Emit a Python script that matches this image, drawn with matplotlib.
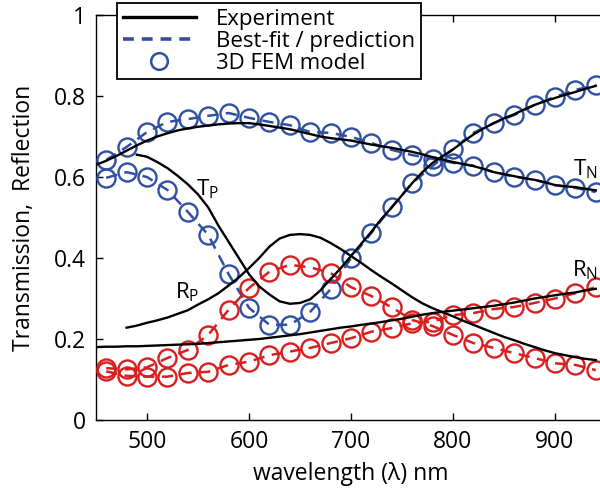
import matplotlib
matplotlib.use("Agg")
import matplotlib.pyplot as plt
from matplotlib.lines import Line2D

plt.rcParams['font.family'] = ['Open Sans', 'DejaVu Sans']
plt.rcParams['mathtext.default'] = 'regular'

# ---------------- data ----------------
# experimental spectra (black lines), 10 nm grid
wl_TN_exp = list(range(450, 950, 10))
TN_exp = [0.630, 0.640, 0.652, 0.665, 0.678, 0.690, 0.700, 0.708, 0.715, 0.720,
          0.724, 0.727, 0.730, 0.732, 0.733, 0.733, 0.730, 0.726, 0.722, 0.718,
          0.712, 0.706, 0.700, 0.696, 0.693, 0.690, 0.685, 0.680, 0.676, 0.672,
          0.667, 0.662, 0.656, 0.649, 0.643, 0.637, 0.632, 0.627, 0.620, 0.612,
          0.607, 0.602, 0.597, 0.593, 0.587, 0.580, 0.577, 0.575, 0.571, 0.567]

wl_TP_exp = list(range(490, 950, 10))
TP_exp = [0.655, 0.650, 0.637, 0.622, 0.603, 0.582, 0.557, 0.525, 0.480, 0.440,
          0.400, 0.360, 0.330, 0.310, 0.293, 0.287, 0.289, 0.298, 0.320, 0.348,
          0.375, 0.405, 0.435, 0.465, 0.497, 0.525, 0.555, 0.585, 0.612, 0.635,
          0.652, 0.668, 0.687, 0.705, 0.720, 0.733, 0.745, 0.755, 0.767, 0.778,
          0.787, 0.795, 0.803, 0.810, 0.818, 0.825]

wl_RP_exp = list(range(480, 950, 10))
RP_exp = [0.228, 0.233, 0.240, 0.246, 0.253, 0.262, 0.271, 0.285, 0.298, 0.313,
          0.332, 0.352, 0.375, 0.400, 0.428, 0.448, 0.457, 0.459, 0.457, 0.450,
          0.437, 0.422, 0.405, 0.388, 0.370, 0.353, 0.337, 0.320, 0.303, 0.288,
          0.276, 0.266, 0.256, 0.245, 0.235, 0.225, 0.215, 0.205, 0.197, 0.188,
          0.180, 0.172, 0.165, 0.160, 0.155, 0.151, 0.148]

wl_RN_exp = list(range(450, 950, 10))
RN_exp = [0.180, 0.181, 0.181, 0.182, 0.182, 0.183, 0.184, 0.185, 0.186, 0.187,
          0.188, 0.190, 0.192, 0.194, 0.196, 0.198, 0.200, 0.203, 0.206, 0.209,
          0.212, 0.216, 0.220, 0.224, 0.228, 0.231, 0.235, 0.238, 0.242, 0.246,
          0.250, 0.255, 0.260, 0.264, 0.267, 0.270, 0.273, 0.276, 0.279, 0.282,
          0.286, 0.290, 0.295, 0.300, 0.304, 0.308, 0.312, 0.315, 0.320, 0.324]

# model (best-fit dashed lines + 3D FEM circles), 20 nm grid
wl_model = list(range(460, 960, 20))
TN_model = [0.642, 0.674, 0.711, 0.736, 0.743, 0.751, 0.758, 0.746, 0.736, 0.728,
            0.711, 0.709, 0.699, 0.684, 0.667, 0.654, 0.645, 0.635, 0.628, 0.612,
            0.601, 0.593, 0.580, 0.573, 0.563]
TP_model = [0.598, 0.612, 0.600, 0.568, 0.514, 0.457, 0.360, 0.277, 0.235, 0.235,
            0.267, 0.323, 0.400, 0.462, 0.526, 0.585, 0.627, 0.669, 0.709, 0.733,
            0.753, 0.778, 0.798, 0.815, 0.827]
RP_model = [0.128, 0.125, 0.130, 0.153, 0.173, 0.210, 0.272, 0.326, 0.366, 0.383,
            0.377, 0.363, 0.328, 0.306, 0.278, 0.247, 0.232, 0.210, 0.190, 0.178,
            0.165, 0.153, 0.140, 0.136, 0.123]
RN_model = [0.120, 0.109, 0.107, 0.107, 0.116, 0.119, 0.136, 0.144, 0.160, 0.169,
            0.178, 0.190, 0.202, 0.218, 0.227, 0.239, 0.243, 0.259, 0.264, 0.274,
            0.279, 0.289, 0.300, 0.313, 0.328]

xticks = [500, 600, 700, 800, 900]
yticks = [0, 0.2, 0.4, 0.6, 0.8, 1]
ytick_labels = ['0', '0.2', '0.4', '0.6', '0.8', '1']

# ---------------- figure ----------------
BLUE = '#2f4fa2'
RED = '#d81e1e'

fig = plt.figure(figsize=(6.0, 4.9), dpi=100)
ax = fig.add_axes([96/600, 70/490, 510/600, 405/490])

dash = (0, (4.5, 3))
lw_exp = 1.7
ms = 13
mew = 1.7

for wl, vals, col in [(wl_model, TN_model, BLUE), (wl_model, TP_model, BLUE),
                      (wl_model, RP_model, RED), (wl_model, RN_model, RED)]:
    ax.plot(wl, vals, linestyle=dash, color=col, lw=1.8, zorder=2)
    ax.plot(wl, vals, linestyle='none', marker='o', ms=ms, mfc='none',
            mec=col, mew=mew, zorder=3)

for wl, vals in [(wl_TN_exp, TN_exp), (wl_TP_exp, TP_exp),
                 (wl_RP_exp, RP_exp), (wl_RN_exp, RN_exp)]:
    ax.plot(wl, vals, color='black', lw=lw_exp, zorder=4)

ax.set_xlim(450, 950)
ax.set_ylim(0, 1)
ax.set_xticks(xticks)
ax.set_yticks(yticks)
ax.set_yticklabels(ytick_labels)
ax.tick_params(direction='in', top=True, right=False, length=5, width=1,
               labelsize=16.5, pad=7)
for s in ax.spines.values():
    s.set_linewidth(1.0)

ax.set_xlabel('wavelength (λ) nm', fontsize=16.5, labelpad=6)
ax.set_ylabel('Transmission,  Reflection', fontsize=16.5, labelpad=13)

# curve labels
lab_kw = dict(fontsize=16, color='black', zorder=6)
ax.text(548, 0.555, 'T$_P$', **lab_kw)
ax.text(527, 0.30, 'R$_P$', **lab_kw)
ax.text(918, 0.605, 'T$_N$', **lab_kw)
ax.text(917, 0.355, 'R$_N$', **lab_kw)

handles = [Line2D([], [], color='black', lw=2.4),
           Line2D([], [], color=BLUE, lw=2.6, linestyle=(0, (3, 2.2))),
           Line2D([], [], color=BLUE, linestyle='none', marker='o', ms=12,
                  mfc='none', mec=BLUE, mew=1.8)]
leg = fig.legend(handles, ['Experiment', 'Best-fit / prediction', '3D FEM model'],
                 loc='upper left', bbox_to_anchor=(117/600, 1 - 3/490),
                 fontsize=16, frameon=True, fancybox=False, framealpha=1,
                 edgecolor='black', handlelength=3.3, handletextpad=0.9,
                 borderpad=0.25, labelspacing=0.05, borderaxespad=0)
leg.get_frame().set_linewidth(1.3)

fig.savefig('out.png', dpi=100)
